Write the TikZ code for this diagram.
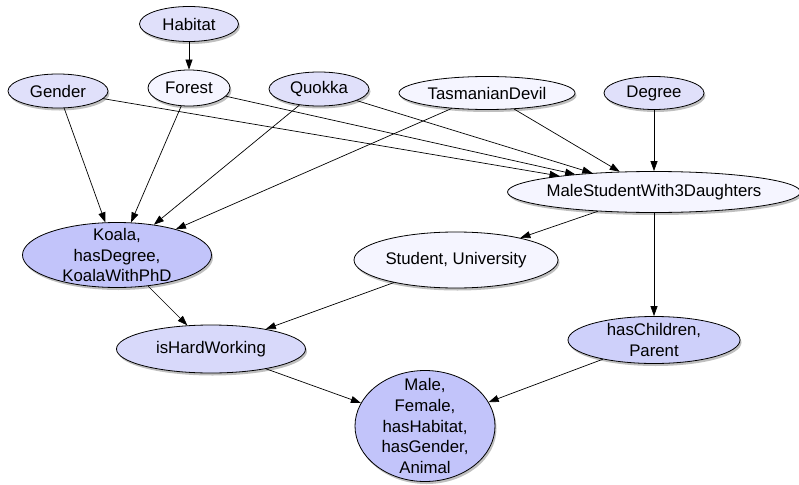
\documentclass[tikz,border=0pt]{standalone}
\usepackage{fontspec}
\setmainfont{Liberation Sans}
\usetikzlibrary{shapes.geometric,arrows.meta,shadows}
\definecolor{cA}{HTML}{E0E0FA}
\definecolor{cB}{HTML}{F5F5FF}
\definecolor{cC}{HTML}{C2C4FA}
\definecolor{cD}{HTML}{D8D9FA}
\definecolor{cE}{HTML}{CED0FA}
\tikzset{
  ell/.style={ellipse, draw, line width=0.8pt, inner sep=0pt,
    drop shadow={shadow xshift=1.5pt, shadow yshift=-2.5pt, opacity=0.25, fill=black}},
  txt/.style={font=\fontsize{16.8}{20.8}\selectfont, align=center, inner sep=0pt},
  edge/.style={draw, line width=0.7pt, -{Triangle[length=10pt,width=7pt]}}
}
\begin{document}
\begin{tikzpicture}[x=1pt,y=-1pt]
\useasboundingbox (0,0) rectangle (799,484);
\node[ell, fill=cA, minimum width=99, minimum height=35, label={[txt]center:Habitat}] (habitat) at (189,24) {};
\node[ell, fill=cB, minimum width=82, minimum height=36, label={[txt]center:Forest}] (forest) at (189,88) {};
\node[ell, fill=cA, minimum width=100, minimum height=34, label={[txt]center:Gender}] (gender) at (58,91) {};
\node[ell, fill=cA, minimum width=100, minimum height=34, label={[txt]center:Quokka}] (quokka) at (319,89) {};
\node[ell, fill=cB, minimum width=176, minimum height=33, label={[txt]center:TasmanianDevil}] (tasmanian) at (487,93) {};
\node[ell, fill=cA, minimum width=100, minimum height=33, label={[txt]center:Degree}] (degree) at (654,93) {};
\node[ell, fill=cB, minimum width=293, minimum height=41, label={[txt]center:MaleStudentWith3Daughters}] (malestudent) at (654,192) {};
\node[ell, fill=cC, minimum width=189, minimum height=65, label={[txt]center:Koala,\\hasDegree,\\KoalaWithPhD}] (koala) at (117,255) {};
\node[ell, fill=cB, minimum width=204, minimum height=56, label={[txt]center:Student, University}] (student) at (456,260) {};
\node[ell, fill=cD, minimum width=189, minimum height=48, label={[txt]center:isHardWorking}] (hardworking) at (211,349) {};
\node[ell, fill=cE, minimum width=172, minimum height=47, label={[txt]center:hasChildren,\\Parent}] (haschildren) at (654,340) {};
\node[ell, fill=cC, minimum width=140, minimum height=111, label={[txt]center:Male,\\Female,\\hasHabitat,\\hasGender,\\Animal}] (male) at (425,426) {};
\path[edge] (habitat) -- (forest);
\path[edge] (gender) -- (koala);
\path[edge] (forest) -- (koala);
\path[edge] (quokka) -- (koala);
\path[edge] (tasmanian) -- (koala);
\path[edge] (gender) -- (malestudent);
\path[edge] (forest) -- (malestudent);
\path[edge] (quokka) -- (malestudent);
\path[edge] (tasmanian) -- (malestudent);
\path[edge] (degree) -- (malestudent);
\path[edge] (malestudent) -- (student);
\path[edge] (malestudent) -- (haschildren);
\path[edge] (koala) -- (hardworking);
\path[edge] (student) -- (hardworking);
\path[edge] (hardworking) -- (male);
\path[edge] (haschildren) -- (male);
\end{tikzpicture}
\end{document}
